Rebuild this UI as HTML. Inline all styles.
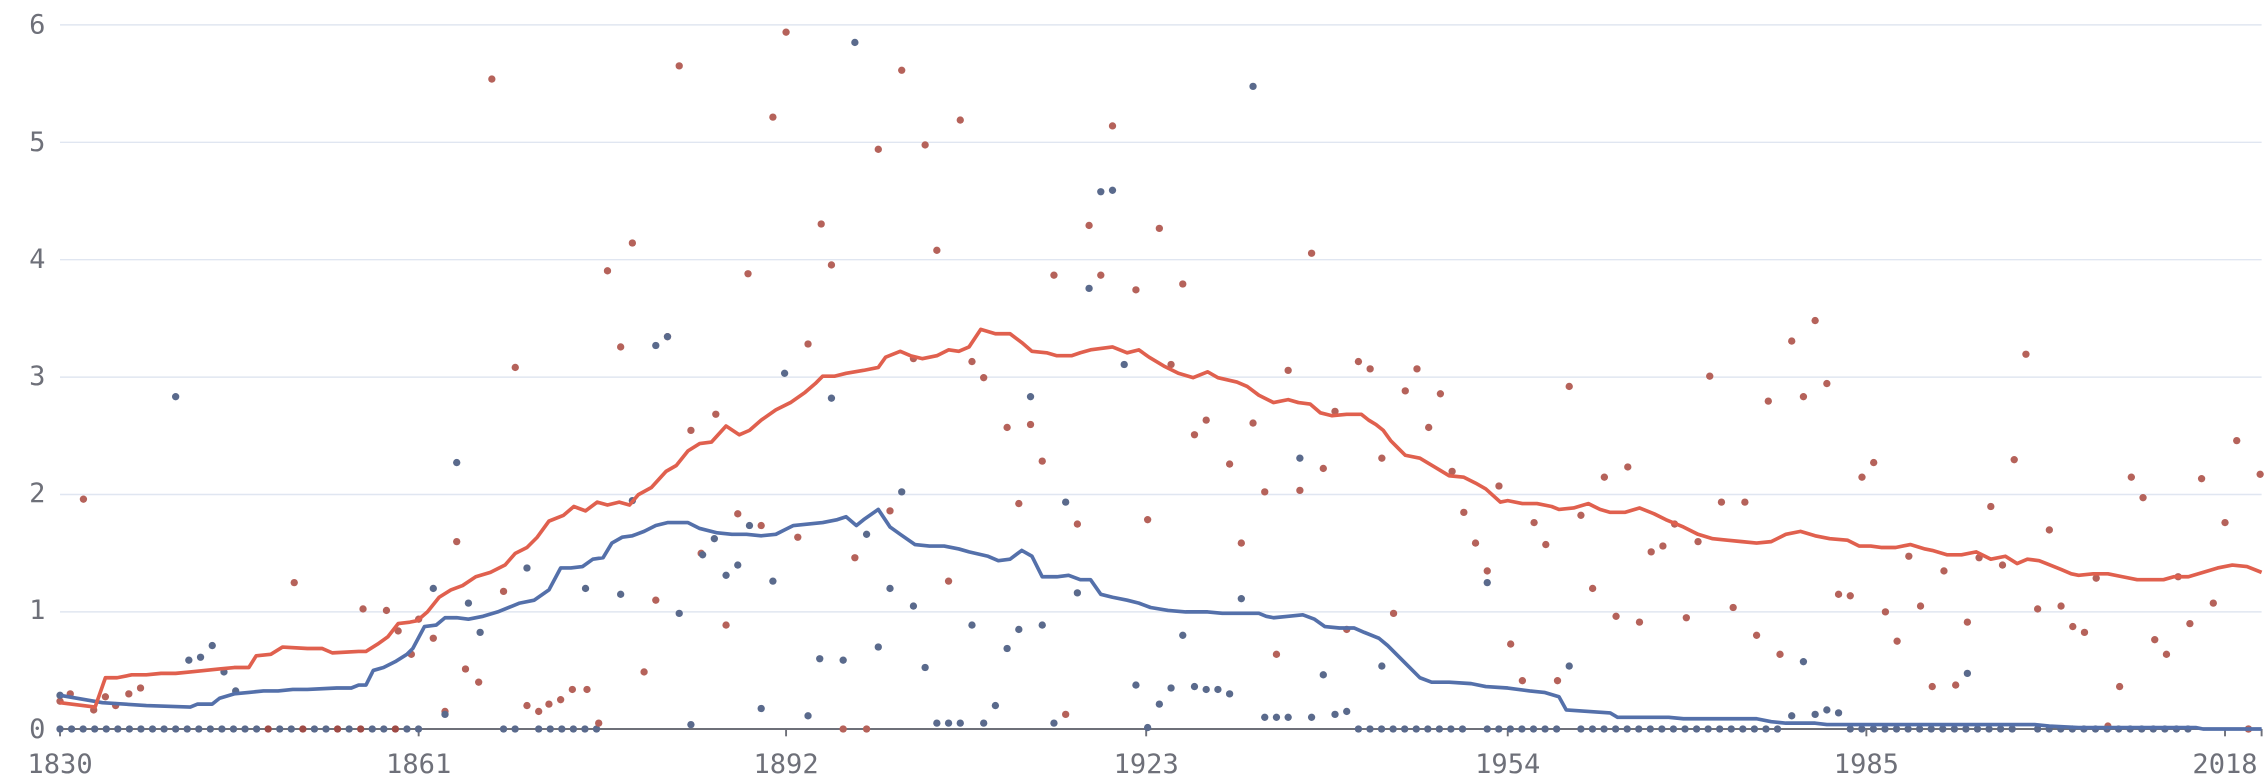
<!DOCTYPE html>
<html><head><meta charset="utf-8"><style>
html,body{margin:0;padding:0;background:#fff;width:2266px;height:782px;overflow:hidden}
svg{display:block}
text{font-family:"DejaVu Sans Mono","Liberation Mono",monospace;fill:#6e7079;font-size:18.5px}
</style></head><body>
<svg id="c" width="2266" height="782" viewBox="0 0 1548 534.2" xmlns="http://www.w3.org/2000/svg">
<g id="grid"></g>
<text x="31" y="23" text-anchor="end">6</text>
<text x="31" y="103" text-anchor="end">5</text>
<text x="31" y="183" text-anchor="end">4</text>
<text x="31" y="263" text-anchor="end">3</text>
<text x="31" y="343" text-anchor="end">2</text>
<text x="31" y="423" text-anchor="end">1</text>
<text x="31" y="504" text-anchor="end">0</text>
<text x="41" y="528" text-anchor="middle">1830</text>
<text x="286" y="528" text-anchor="middle">1861</text>
<text x="537" y="528" text-anchor="middle">1892</text>
<text x="783" y="528" text-anchor="middle">1923</text>
<text x="1030" y="528" text-anchor="middle">1954</text>
<text x="1275" y="528" text-anchor="middle">1985</text>
<text x="1520" y="528" text-anchor="middle">2018</text>
<g id="dots"></g>
<g id="lines"></g>
</svg>
<script>
var NS="http://www.w3.org/2000/svg";
function el(p,t,a){var e=document.createElementNS(NS,t);for(var k in a)e.setAttribute(k,a[k]);document.getElementById(p).appendChild(e);return e;}
for(var i=0;i<6;i++){var y=17+i*80.2;el("grid","line",{x1:41,x2:1545,y1:y,y2:y,stroke:"#e0e6f1","stroke-width":1});}
el("grid","line",{x1:41,x2:1545,y1:498,y2:498,stroke:"#6e7079","stroke-width":1.3});
[41,286,537,783,1030,1275,1520,1545].forEach(function(x){el("grid","line",{x1:x,x2:x,y1:498,y2:503,stroke:"#6e7079","stroke-width":1.3});});
var red="41,480 65,483 72,463 80,463 90,461 100,461 110,460 120,460 130,459 140,458 150,457 160,456 170,456 175,448 185,447 193,442 210,443 220,443 227,446 245,445 250,445 258,440 265,435 272,426 280,425 285,424 292,418 300,408 308,403 316,400 325,394 335,391 345,386 352,378 360,374 367,367 375,356 385,352 392,346 400,349 408,343 415,345 423,343 430,345 436,338 445,333 455,322 462,318 470,308 478,303 486,302 496,291 505,297 512,294 520,287 530,280 540,275 550,268 557,262 562,257 570,257 578,255 590,253 600,251 605,244 615,240 622,243 630,245 640,243 648,239 655,240 662,237 670,225 680,228 690,228 698,234 705,240 715,241 722,243 732,243 738,241 745,239 760,237 770,241 778,239 785,244 795,250 805,255 815,258 825,254 832,258 845,261 852,264 860,270 870,275 880,273 887,275 895,276 902,282 910,284 920,283 930,283 935,287 940,290 945,294 950,301 960,311 970,313 980,319 990,325 1000,326 1008,330 1015,334 1025,343 1030,342 1040,344 1050,344 1060,346 1065,348 1075,347 1085,344 1093,348 1100,350 1110,350 1120,347 1130,351 1138,355 1150,360 1160,365 1170,368 1180,369 1190,370 1200,371 1210,370 1220,365 1230,363 1240,366 1250,368 1262,369 1270,373 1278,373 1285,374 1295,374 1305,372 1315,375 1320,376 1330,379 1340,379 1350,377 1360,382 1370,380 1378,385 1385,382 1393,383 1398,385 1408,389 1415,392 1420,393 1430,392 1440,392 1450,394 1460,396 1470,396 1478,396 1485,394 1495,394 1505,391 1515,388 1525,386 1535,387 1545,391";
var blue="41,475 70,480 100,482 130,483 135,481 145,481 150,477 160,474 170,473 180,472 190,472 200,471 210,471 230,470 240,470 245,468 250,468 255,458 262,456 270,452 278,447 282,443 290,428 298,427 304,422 312,422 320,423 330,421 340,418 350,414 355,412 365,410 375,403 383,388 390,388 398,387 405,382 412,381 418,371 425,367 432,366 440,363 448,359 456,357 470,357 478,361 490,364 500,365 510,365 520,366 530,365 536,362 542,359 552,358 562,357 572,355 578,353 585,359 590,355 600,348 608,360 615,365 625,372 635,373 645,373 655,375 662,377 675,380 682,383 690,382 698,376 705,380 712,394 722,394 730,393 738,396 745,396 752,406 760,408 770,410 778,412 786,415 798,417 810,418 825,418 835,419 845,419 852,419 860,419 865,421 870,422 880,421 890,420 898,423 905,428 915,429 925,429 932,432 942,436 948,441 955,448 962,455 970,463 978,466 990,466 1005,467 1015,469 1030,470 1045,472 1055,473 1065,476 1070,485 1085,486 1100,487 1105,490 1120,490 1140,490 1150,491 1170,491 1190,491 1200,491 1210,493 1220,494 1230,494 1240,494 1248,495 1260,495 1300,495 1355,495 1390,495 1400,496 1420,497 1440,497 1500,497 1505,498 1545,498";
var rd="41,479 48,474 57,341 64,485 72,476 79,482 88,474 96,470 201,398 248,416 264,417 286,423 281,447 272,431 296,436 304,486 312,370 318,457 327,466 336,54 344,404 352,251 360,482 368,486 375,481 383,478 391,471 401,471 409,494 415,185 424,237 432,166 440,459 448,410 456,230 464,45 472,294 479,378 489,283 496,427 504,351 511,187 520,359 528,80 537,22 545,367 552,235 561,153 568,181 576,498 584,381 592,498 600,102 608,349 616,48 624,245 632,99 640,171 648,397 656,82 664,247 672,258 688,292 696,344 704,290 712,315 720,188 728,488 736,358 744,154 752,188 760,86 776,198 784,355 792,156 800,249 808,194 816,297 824,287 840,317 848,371 856,289 864,336 872,447 880,253 888,335 896,173 904,320 912,281 920,430 928,247 936,252 944,313 952,419 960,267 968,252 976,292 984,269 992,322 1000,350 1008,371 1016,390 1024,332 1032,440 1040,465 1048,357 1056,372 1064,465 1072,264 1080,352 1088,402 1096,326 1104,421 1112,319 1120,425 1128,377 1136,373 1144,358 1152,422 1160,370 1168,257 1176,343 1184,415 1192,343 1200,434 1208,274 1216,447 1224,233 1232,271 1240,219 1248,262 1256,406 1264,407 1272,326 1280,316 1288,418 1296,438 1304,380 1312,414 1320,469 1328,390 1336,468 1344,425 1352,381 1360,346 1368,386 1376,314 1384,242 1392,416 1400,362 1408,414 1416,428 1424,432 1432,395 1440,496 1448,469 1456,326 1464,340 1472,437 1480,447 1488,394 1496,426 1504,327 1512,412 1520,357 1528,301 1536,498 1544,324";
var bd="41,475 120,271 129,451 137,449 145,441 153,459 161,472 296,402 304,488 312,316 320,412 328,432 360,388 400,402 424,406 432,342 448,236 456,230 464,419 472,495 480,379 488,368 496,393 504,386 512,359 520,484 528,397 536,255 552,489 560,450 568,272 576,451 584,29 592,365 600,442 608,402 616,336 624,414 632,456 640,494 648,494 656,494 664,427 672,494 680,482 688,443 696,430 704,271 712,427 720,494 728,343 736,405 744,197 752,131 760,130 768,249 776,468 784,497 792,481 800,470 808,434 816,469 824,471 832,471 840,474 848,409 856,59 864,490 872,490 880,490 888,313 896,490 904,461 912,488 920,486 944,455 1016,398 1072,455 1224,489 1232,452 1240,488 1248,485 1256,487 1344,460";
var zr=[[41,290],[344,352],[368,410],[928,1000],[1016,1064],[1080,1222],[1264,1380],[1392,1500],[1536,1536]];
zr.forEach(function(r){for(var x=r[0];x<=r[1];x+=7.9){var c=(x>165&&x<275&&Math.round(x)%3==0)?"#9e4a45":"#5a6a8c";el("dots","circle",{cx:x,cy:498,r:2.5,fill:c});}});
function dots(s,c){s.split(" ").forEach(function(p){var a=p.split(",");el("dots","circle",{cx:a[0],cy:a[1],r:2.5,fill:c});});}
dots(rd,"#b5625a");dots(bd,"#5a6a8c");
el("lines","polyline",{points:blue,fill:"none",stroke:"#5470aa","stroke-width":2.5,"stroke-linejoin":"round"});
el("lines","polyline",{points:red,fill:"none",stroke:"#e0604e","stroke-width":2.5,"stroke-linejoin":"round"});
</script>
</body></html>
